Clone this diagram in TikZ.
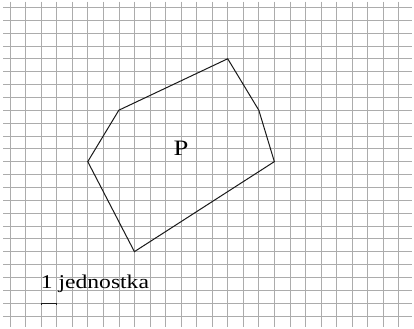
\documentclass[tikz,border=0pt]{standalone}
\usepackage{fontspec}
\setmainfont{Liberation Serif}
\usepackage{tikz}

\begin{document}
\begin{tikzpicture}[
    x=15.55pt, y=-12.86pt,
    gridline/.style={draw=gray!65, line width=0.7pt},
    edge/.style={draw=black!90, line width=1pt, line join=miter},
    lbl/.style={inner sep=0pt, xscale=1.21}
]
\useasboundingbox (-0.643,-0.568) rectangle (25.98,24.94);
% squared paper
\foreach \i in {0,...,25} \draw[gridline] (\i,-0.44) -- (\i,24.86);
\foreach \j in {0,...,24} \draw[gridline] (-0.45,\j) -- (25.85,\j);

% polygon P
\coordinate (top) at (14,4);
\coordinate (rup) at (16,8);
\coordinate (rgt) at (17,12);
\coordinate (bot) at (8,19);
\coordinate (lft) at (5,12);
\coordinate (lup) at (7,8);
\draw[edge] (top) -- (rup) -- (rgt) -- (bot) -- (lft) -- (lup) -- cycle;
\node[lbl, font=\fontsize{22}{24}\selectfont] (name) at (11,11) {P};

% unit
\node[lbl, anchor=base west, font=\fontsize{19.5}{21}\selectfont] (unit) at (1.97,21.85) {1 jednostka};
\coordinate (ua) at (2,23);
\coordinate (ub) at (3,23);
\draw[edge, line width=1.1pt] ([yshift=-2pt]ua) -- (ua) -- (ub) -- ([yshift=-2pt]ub);
\end{tikzpicture}
\end{document}
